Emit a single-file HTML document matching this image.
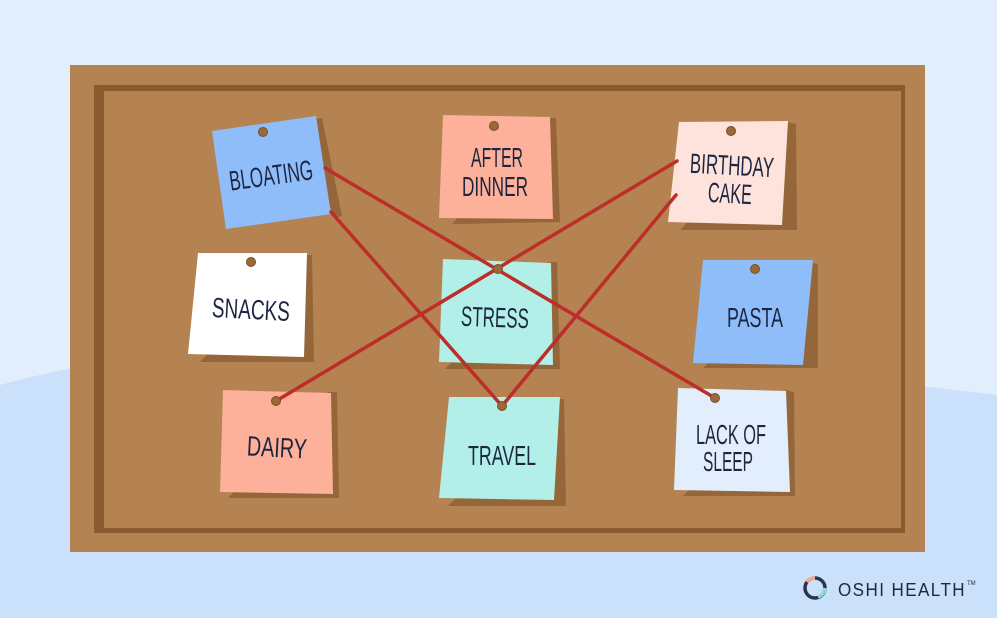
<!DOCTYPE html>
<html><head><meta charset="utf-8"><style>
html,body{margin:0;padding:0;width:997px;height:618px;overflow:hidden;background:#e2eefc}
svg{display:block}
text{font-family:"Liberation Sans Narrow","Liberation Sans",sans-serif;fill:#1d2640;font-size:28px;text-anchor:middle}
</style></head><body>
<svg width="997" height="618" viewBox="0 0 997 618" xmlns="http://www.w3.org/2000/svg">
<rect width="997" height="618" fill="#e2eefc"/>
<path d="M0 385 Q200 330 500 350 T997 395 V618 H0Z" fill="#cbe0fa"/>
<rect x="70" y="65" width="855" height="487" fill="#b58352"/>
<rect x="94" y="85" width="811" height="448" fill="#8b5a2e"/>
<rect x="104" y="91" width="797" height="437" fill="#b58352"/>
<g fill="#94663a">
<polygon points="300,120 322,118 342,216 334,218"/>
<polygon points="548,118 556,118 560,222 452,224"/>
<polygon points="785,122 796,124 797,230 680,230"/>
<polygon points="300,255 312,255 314,362 200,362"/>
<polygon points="548,262 557,262 560,369 445,369"/>
<polygon points="808,262 818,264 818,368 703,368"/>
<polygon points="328,392 337,392 339,498 228,498"/>
<polygon points="555,399 564,399 566,506 448,506"/>
<polygon points="786,390 794,392 795,496 683,496"/>
</g>
<polygon points="212,131 316,116 331,214 226,229" fill="#8fbdf9"/>
<polygon points="443,115 550,117 553,219 439,218" fill="#fdb09a"/>
<polygon points="679,122 788,121 782,225 668,222" fill="#fee3dc"/>
<polygon points="198,253 307,253 304,357 188,354" fill="#ffffff"/>
<polygon points="443,259 551,263 553,365 439,362" fill="#b1efe8"/>
<polygon points="703,260 813,260 803,365 693,363" fill="#8fbdf9"/>
<polygon points="223,390 331,393 333,494 220,492" fill="#fdb09a"/>
<polygon points="449,397 560,397 554,500 439,498" fill="#b1efe8"/>
<polygon points="678,388 786,391 790,492 674,490" fill="#e3eefd"/>
<g fill="#9b6936" stroke="#7a4f27" stroke-width="1">
<circle cx="263" cy="132" r="4.5"/><circle cx="494" cy="126" r="4.5"/><circle cx="731" cy="131" r="4.5"/>
<circle cx="251" cy="262" r="4.5"/><circle cx="755" cy="269" r="4.5"/>
</g>
<g stroke="#bd2d2a" stroke-width="3.5" fill="none" stroke-linecap="round">
<line x1="325" y1="168" x2="715" y2="398"/>
<line x1="331" y1="212" x2="502" y2="406"/>
<line x1="502" y1="406" x2="676" y2="195"/>
<line x1="276" y1="401" x2="677" y2="161"/>
</g>
<g fill="#9b6936" stroke="#7a4f27" stroke-width="1">
<circle cx="498" cy="269" r="4.5"/><circle cx="276" cy="401" r="4.5"/><circle cx="502" cy="406" r="4.5"/><circle cx="715" cy="398" r="4.5"/>
</g>
<text x="271" y="185" transform="rotate(-8 271 175)" textLength="84" lengthAdjust="spacingAndGlyphs">BLOATING</text>
<text x="497" y="167" textLength="52" lengthAdjust="spacingAndGlyphs">AFTER</text>
<text x="495" y="196" textLength="66" lengthAdjust="spacingAndGlyphs">DINNER</text>
<text x="732" y="175" textLength="84" lengthAdjust="spacingAndGlyphs" transform="rotate(3 732 165)">BIRTHDAY</text>
<text x="730" y="203" textLength="44" lengthAdjust="spacingAndGlyphs" transform="rotate(3 730 193)">CAKE</text>
<text x="251" y="319" textLength="78" lengthAdjust="spacingAndGlyphs" transform="rotate(3 251 309)">SNACKS</text>
<text x="495" y="327" textLength="68" lengthAdjust="spacingAndGlyphs" transform="rotate(2 495 317)">STRESS</text>
<text x="755" y="327" textLength="56" lengthAdjust="spacingAndGlyphs">PASTA</text>
<text x="277" y="457" textLength="60" lengthAdjust="spacingAndGlyphs" transform="rotate(3 277 447)">DAIRY</text>
<text x="502" y="465" textLength="68" lengthAdjust="spacingAndGlyphs">TRAVEL</text>
<text x="731" y="444" textLength="70" lengthAdjust="spacingAndGlyphs">LACK OF</text>
<text x="728" y="471" textLength="50" lengthAdjust="spacingAndGlyphs">SLEEP</text>
<circle cx="815" cy="588" r="10" fill="none" stroke="#2a3350" stroke-width="3.5"/>
<path d="M807 582 A10 10 0 0 1 815 578" stroke="#f7a98e" stroke-width="3.5" fill="none"/>
<path d="M825 588 A10 10 0 0 1 818 597" stroke="#8fd8cc" stroke-width="3.5" fill="none"/>
<text x="838" y="596" style="text-anchor:start;font-family:'Liberation Sans',sans-serif;font-size:18px;letter-spacing:1.5px;fill:#1f2840" textLength="128" lengthAdjust="spacingAndGlyphs">OSHI HEALTH</text>
<text x="967" y="585" style="text-anchor:start;font-family:'Liberation Sans',sans-serif;font-size:6px;fill:#1f2840">TM</text>
</svg>
</body></html>
